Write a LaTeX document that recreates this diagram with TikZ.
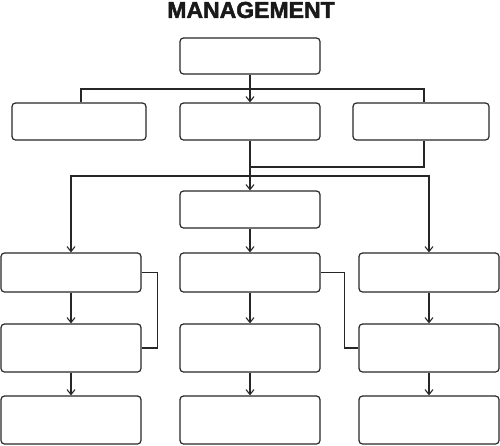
\documentclass[tikz,border=0pt]{standalone}
\usepackage{fontspec}
\setmainfont{Liberation Sans}
\newfontfamily\titlefont[BoldFeatures={FakeBold=2}]{Liberation Sans}
\usetikzlibrary{arrows.meta}
\begin{document}
\begin{tikzpicture}[x=1pt,y=-1pt,
  box/.style={draw=black!85, line width=1.2pt, rounded corners=3.5pt, minimum width=140pt, inner sep=0pt},
  conn/.style={draw=black!85, line width=1.2pt},
  arr/.style={conn, -{Straight Barb[length=5pt,width=8pt,line width=1.1pt]}}]
\useasboundingbox (0,0) rectangle (500,445);
\node[font=\titlefont\bfseries\fontsize{23}{23}\selectfont, text=black!90] (title) at (251,10) {MANAGEMENT};
% row 1
\node[box, minimum height=36pt] (top) at (250,56) {};
% row 2
\node[box, minimum width=134pt, minimum height=37pt] (L) at (79,121.5) {};
\node[box, minimum height=37pt] (M) at (250,121.5) {};
\node[box, minimum width=136pt, minimum height=37pt] (R) at (421,121.5) {};
% row 3
\node[box, minimum height=37pt] (C) at (250,209.5) {};
% row 4
\node[box, minimum height=39pt] (D1) at (71,272.5) {};
\node[box, minimum height=39pt] (D2) at (250,272.5) {};
\node[box, minimum height=39pt] (D3) at (429,272.5) {};
% row 5
\node[box, minimum height=48pt] (E1) at (71,348) {};
\node[box, minimum height=48pt] (E2) at (250,348) {};
\node[box, minimum height=48pt] (E3) at (429,348) {};
% row 6
\node[box, minimum height=48pt] (F1) at (71,420) {};
\node[box, minimum height=48pt] (F2) at (250,420) {};
\node[box, minimum height=48pt] (F3) at (429,420) {};
% junctions
\coordinate (j1) at (250,89);
\coordinate (j3) at (250,167);
\coordinate (j2) at (250,176);
% connectors top -> row 2
\draw[arr] (top.south) -- (M.north);
\draw[conn] ([xshift=2pt]L.north) |- (j1) -| ([xshift=3pt]R.north);
% row 2 -> row 3/4
\draw[conn] (M.south) -- (j2);
\draw[conn] ([xshift=3pt]R.south) |- (j3);
\draw[arr] (j2) -- (C.north);
\draw[arr] (j2) -| (D1.north);
\draw[arr] (j2) -| (D3.north);
\draw[arr] (C.south) -- (D2.north);
% row 4 -> row 5
\draw[arr] (D1.south) -- (E1.north);
\draw[arr] (D2.south) -- (E2.north);
\draw[arr] (D3.south) -- (E3.north);
% row 5 -> row 6
\draw[arr] (E1.south) -- (F1.north);
\draw[arr] (E2.south) -- (F2.north);
\draw[arr] (E3.south) -- (F3.north);
% side connectors
\draw[conn] (D1.east) -- ++(16,0) |- (E1.east);
\draw[conn] (D2.east) -- ++(24,0) |- (E3.west);
\end{tikzpicture}
\end{document}
